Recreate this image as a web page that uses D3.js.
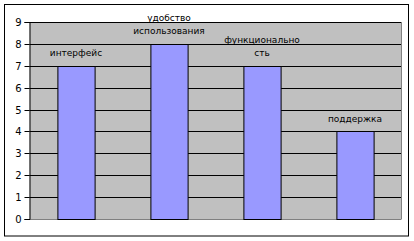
<!DOCTYPE html>
<html><head><meta charset="utf-8">
<script src="https://cdn.jsdelivr.net/npm/d3@7"></script>
<style>html,body{margin:0;padding:0;background:#fff;}svg{display:block;}</style>
</head><body>
<svg id="chart" width="414" height="241"></svg>
<script>
const categories = ["интерфейс", "удобство использования", "функциональность", "поддержка"];
const labelLines = [["интерфейс"], ["удобство", "использования"], ["функционально", "сть"], ["поддержка"]];
const values = [7, 8, 7, 4];
const yTicks = [0, 1, 2, 3, 4, 5, 6, 7, 8, 9];

const svg = d3.select("#chart");
const font = "'DejaVu Sans', Verdana, sans-serif";
const m = {left: 29.5, right: 401.5, top: 22, bottom: 219};

svg.append("rect").attr("x", 4.5).attr("y", 4.5).attr("width", 404).attr("height", 231.5)
  .attr("fill", "#fff").attr("stroke", "#000").attr("stroke-width", 1);

const x = d3.scaleBand().domain(categories).range([m.left, m.right]).paddingInner(0.6).paddingOuter(0.3);
const y = d3.scaleLinear().domain([0, 9]).range([m.bottom, m.top]);

svg.append("rect").attr("x", m.left).attr("y", m.top).attr("width", m.right - m.left).attr("height", m.bottom - m.top)
  .attr("fill", "#c0c0c0");

svg.append("g").selectAll("line").data(yTicks.filter(d => d > 0)).join("line")
  .attr("x1", m.left).attr("x2", m.right)
  .attr("y1", d => Math.round(y(d)) + 0.5).attr("y2", d => Math.round(y(d)) + 0.5)
  .attr("stroke", "#000").attr("stroke-width", 1);

svg.append("line").attr("x1", m.right).attr("x2", m.right).attr("y1", m.top).attr("y2", m.bottom)
  .attr("stroke", "#808080");
svg.append("line").attr("x1", m.left).attr("x2", m.right).attr("y1", m.bottom + 0.5).attr("y2", m.bottom + 0.5)
  .attr("stroke", "#808080");

const yAxis = d3.axisLeft(y).tickValues(yTicks).tickSize(5).tickPadding(3).tickFormat(d3.format("d"));
const ga = svg.append("g").attr("transform", `translate(${m.left},0)`).call(yAxis);
ga.select(".domain").attr("stroke", "#000");
ga.selectAll(".tick line").attr("stroke", "#000");
ga.selectAll(".tick text").attr("font-family", font).attr("font-size", 10).attr("fill", "#000");
ga.selectAll(".tick").attr("transform", d => `translate(0,${Math.round(y(d)) + 0.5})`);

svg.append("g").selectAll("rect").data(values).join("rect")
  .attr("x", (d, i) => x(categories[i]) + 0.5)
  .attr("y", d => Math.round(y(d)) + 0.5)
  .attr("width", x.bandwidth())
  .attr("height", d => Math.round(y(0)) - Math.round(y(d)))
  .attr("fill", "#9999ff").attr("stroke", "#000").attr("stroke-width", 1);

const lg = svg.append("g");
values.forEach((v, i) => {
  const lines = labelLines[i];
  const cx = x(categories[i]) + x.bandwidth() / 2;
  const base = y(v) - 9.5;
  const t = lg.append("text").attr("text-anchor", "middle").attr("font-family", font)
    .attr("font-size", 9).attr("fill", "#000");
  lines.forEach((l, j) => {
    t.append("tspan").attr("x", cx).attr("y", base - (lines.length - 1 - j) * 13).text(l);
  });
});
</script>
</body></html>
